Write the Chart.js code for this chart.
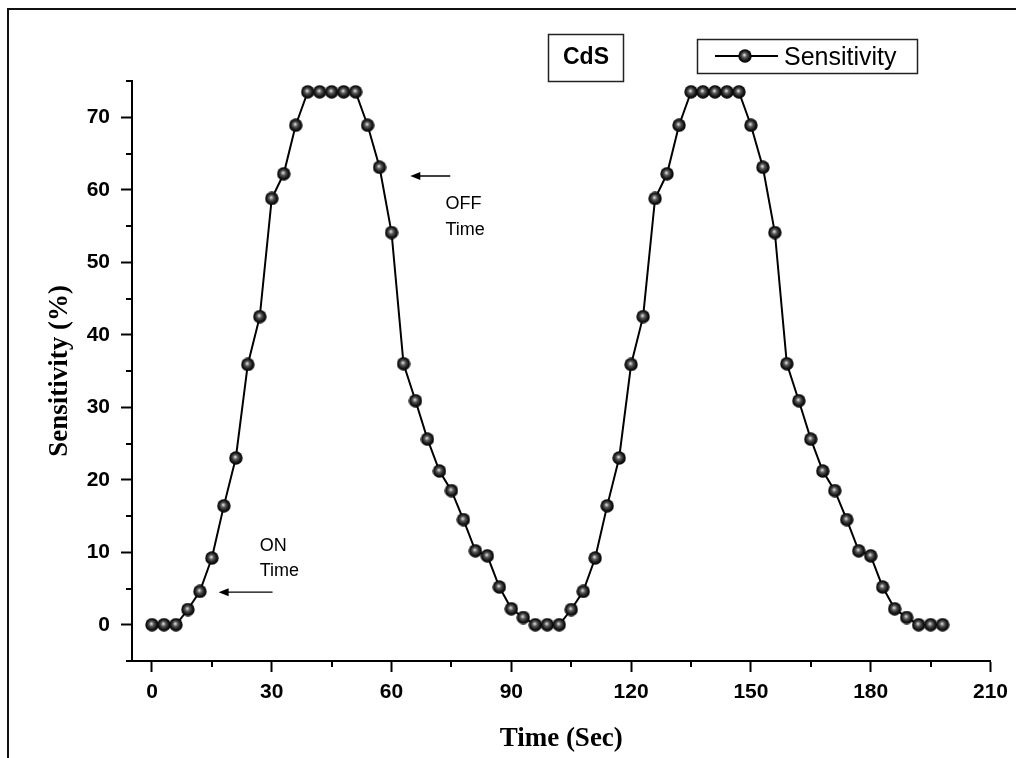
<!DOCTYPE html>
<html>
<head>
<meta charset="utf-8">
<script src="https://cdn.jsdelivr.net/npm/chart.js@4.4.0/dist/chart.umd.min.js"></script>
<style>
  body { margin: 0; background: #fff; }
  #wrap { position: relative; width: 1016px; height: 758px; overflow: hidden; }
  #frame { position: absolute; left: 7px; top: 8px; width: 1100px; height: 800px;
           border-left: 2px solid #111; border-top: 2px solid #111; pointer-events: none; }
  canvas { position: absolute; left: 0; top: 0; }
</style>
</head>
<body>
<div id="wrap">
  <canvas id="chart" width="1016" height="758"></canvas>
  <div id="frame"></div>
</div>
<script>
// time (sec)
var time = [0, 3, 6, 9, 12, 15, 18, 21, 24, 27, 30, 33, 36, 39, 42, 45, 48, 51, 54, 57,
            60, 63, 66, 69, 72, 75, 78, 81, 84, 87, 90, 93, 96, 99, 102, 105, 108, 111, 114, 117,
            120, 123, 126, 129, 132, 135, 138, 141, 144, 147, 150, 153, 156, 159, 162, 165, 168, 171, 174, 177,
            180, 183, 186, 189, 192, 195, 198];
// sensitivity (%)
var sensitivity = [0, 0, 0, 2.1, 4.6, 9.2, 16.4, 23.0, 35.9, 42.5, 58.8, 62.2, 68.9, 73.5, 73.5, 73.5, 73.5, 73.5, 68.9, 63.1,
                   54.1, 36.0, 30.9, 25.6, 21.2, 18.5, 14.5, 10.2, 9.5, 5.2, 2.2, 1.0, 0, 0, 0, 2.1, 4.6, 9.2, 16.4, 23.0,
                   35.9, 42.5, 58.8, 62.2, 68.9, 73.5, 73.5, 73.5, 73.5, 73.5, 68.9, 63.1, 54.1, 36.0, 30.9, 25.6, 21.2, 18.5, 14.5, 10.2,
                   9.5, 5.2, 2.2, 1.0, 0, 0, 0];
var xTicks = [0, 30, 60, 90, 120, 150, 180, 210];
var yTicks = [0, 10, 20, 30, 40, 50, 60, 70];
var xMinor = [15, 45, 75, 105, 135, 165, 195];
var yMinor = [-5, 5, 15, 25, 35, 45, 55, 65, 75];

var points = time.map(function (t, i) { return { x: t, y: sensitivity[i] }; });

// shaded ball marker
function makeSphere(d) {
  var c = document.createElement('canvas');
  c.width = c.height = d;
  var g = c.getContext('2d');
  var r = d / 2;
  var grad = g.createRadialGradient(r * 0.9, r * 0.85, 0.4, r, r, r);
  grad.addColorStop(0, '#d8d8d8');
  grad.addColorStop(0.3, '#5a5a5a');
  grad.addColorStop(0.7, '#141414');
  grad.addColorStop(1, '#000');
  g.fillStyle = grad;
  g.beginPath();
  g.arc(r, r, r - 0.3, 0, Math.PI * 2);
  g.fill();
  return c;
}
var ball = makeSphere(14);

function arrow(ctx, x1, y1, x2, y2) {
  ctx.save();
  ctx.strokeStyle = '#000';
  ctx.fillStyle = '#000';
  ctx.lineWidth = 1.4;
  ctx.beginPath();
  ctx.moveTo(x1, y1);
  ctx.lineTo(x2 + 6, y2);
  ctx.stroke();
  ctx.beginPath();
  ctx.moveTo(x2, y2);
  ctx.lineTo(x2 + 10, y2 - 4);
  ctx.lineTo(x2 + 10, y2 + 4);
  ctx.closePath();
  ctx.fill();
  ctx.restore();
}

var extras = {
  id: 'extras',
  afterDraw: function (chart) {
    var ctx = chart.ctx;
    var xs = chart.scales.x, ys = chart.scales.y;
    var area = chart.chartArea;
    ctx.save();
    // minor ticks
    ctx.strokeStyle = '#000';
    ctx.lineWidth = 2;
    xMinor.forEach(function (v) {
      var px = Math.round(xs.getPixelForValue(v));
      ctx.beginPath();
      ctx.moveTo(px, area.bottom);
      ctx.lineTo(px, area.bottom + 6);
      ctx.stroke();
    });
    yMinor.forEach(function (v) {
      var py = Math.round(ys.getPixelForValue(v));
      ctx.beginPath();
      ctx.moveTo(area.left - 6, py);
      ctx.lineTo(area.left, py);
      ctx.stroke();
    });

    // annotations
    arrow(ctx, xs.getPixelForValue(74.7), ys.getPixelForValue(61.9), xs.getPixelForValue(64.7), ys.getPixelForValue(61.9));
    arrow(ctx, xs.getPixelForValue(30.2), ys.getPixelForValue(4.5), xs.getPixelForValue(16.7), ys.getPixelForValue(4.5));
    ctx.fillStyle = '#000';
    ctx.font = '18px "Liberation Sans", Arial, sans-serif';
    ctx.textAlign = 'left';
    ctx.textBaseline = 'middle';
    ctx.fillText('OFF', xs.getPixelForValue(73.5), ys.getPixelForValue(58.0));
    ctx.fillText('Time', xs.getPixelForValue(73.5), ys.getPixelForValue(54.4));
    ctx.fillText('ON', xs.getPixelForValue(27.0), ys.getPixelForValue(10.9));
    ctx.fillText('Time', xs.getPixelForValue(27.0), ys.getPixelForValue(7.4));

    // CdS label box
    ctx.strokeStyle = '#222';
    ctx.lineWidth = 1.5;
    ctx.strokeRect(548.5, 34.5, 75, 47);
    ctx.fillStyle = '#000';
    ctx.font = 'bold 23px "Liberation Sans", Arial, sans-serif';
    ctx.textAlign = 'center';
    ctx.fillText('CdS', 586, 58);

    // legend box
    ctx.strokeRect(697.5, 39.5, 220, 34);
    ctx.lineWidth = 2;
    ctx.strokeStyle = '#000';
    ctx.beginPath();
    ctx.moveTo(715, 56);
    ctx.lineTo(778, 56);
    ctx.stroke();
    ctx.drawImage(ball, 745 - 7, 56 - 7);
    ctx.font = '25px "Liberation Sans", Arial, sans-serif';
    ctx.textAlign = 'left';
    ctx.fillText(chart.data.datasets[0].label, 784, 58);
    ctx.restore();
  }
};

var ctx = document.getElementById('chart').getContext('2d');
var myChart = new Chart(ctx, {
  type: 'line',
  data: {
    datasets: [{
      label: 'Sensitivity',
      data: points,
      borderColor: '#000',
      borderWidth: 2,
      tension: 0,
      pointStyle: ball,
      pointRadius: 7,
      pointHoverRadius: 7
    }]
  },
  options: {
    responsive: false,
    animation: false,
    layout: { padding: { left: 0, top: 81, right: 24, bottom: 0 } },
    plugins: { legend: { display: false }, tooltip: { enabled: false } },
    scales: {
      x: {
        type: 'linear',
        min: -5,
        max: 210,
        afterBuildTicks: function (scale) { scale.ticks = xTicks.map(function (v) { return { value: v }; }); },
        afterFit: function (scale) { scale.height = 97; },
        grid: { drawOnChartArea: false, tickLength: 11, tickWidth: 2, tickColor: '#000' },
        border: { color: '#000', width: 2 },
        ticks: {
          color: '#000',
          padding: 8,
          maxRotation: 0,
          font: { family: '"Liberation Sans", Arial, sans-serif', size: 21, weight: 'bold' }
        },
        title: {
          display: true,
          text: 'Time (Sec)',
          color: '#000',
          padding: { top: 0, bottom: 3 },
          font: { family: '"Liberation Serif", "Times New Roman", serif', size: 27, weight: 'bold' }
        }
      },
      y: {
        min: -5,
        max: 75,
        afterBuildTicks: function (scale) { scale.ticks = yTicks.map(function (v) { return { value: v }; }); },
        afterFit: function (scale) { scale.width = 132; },
        grid: { drawOnChartArea: false, tickLength: 11, tickWidth: 2, tickColor: '#000' },
        border: { color: '#000', width: 2 },
        ticks: {
          color: '#000',
          padding: 11,
          font: { family: '"Liberation Sans", Arial, sans-serif', size: 21, weight: 'bold' }
        },
        title: {
          display: true,
          text: 'Sensitivity (%)',
          color: '#000',
          padding: { top: 44, bottom: 0 },
          font: { family: '"Liberation Serif", "Times New Roman", serif', size: 27, weight: 'bold' }
        }
      }
    }
  },
  plugins: [extras]
});
</script>
</body>
</html>
